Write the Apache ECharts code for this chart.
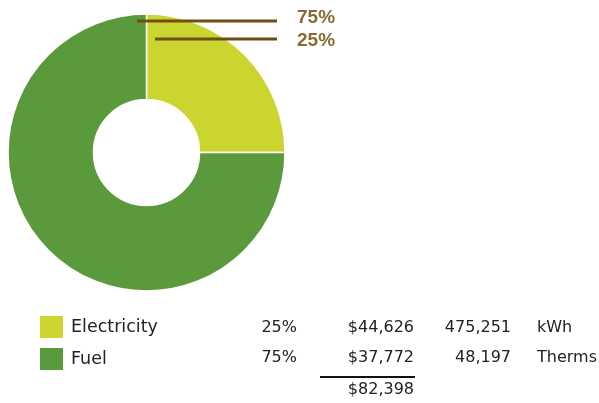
<!DOCTYPE html>
<html><head><meta charset="utf-8">
<script src="https://cdn.jsdelivr.net/npm/echarts@6/dist/echarts.min.js"></script>
<style>html,body{margin:0;padding:0;background:#fff}#c{width:599px;height:403px}</style>
</head><body><div id="c"></div>
<script>
var categories = ['Electricity', 'Fuel'];
var percents = [25, 75];
var costs = ['$44,626', '$37,772'];
var usage = ['475,251', '48,197'];
var units = ['kWh', 'Therms'];
var total = '$82,398';
var colors = ['#cad52f', '#5b9a3c'];

var chart = echarts.init(document.getElementById('c'), null, {renderer: 'canvas'});
var rowY = [328, 358];
var numFont = 'DejaVu Sans';
var graphics = [];
for (var i = 0; i < categories.length; i++) {
  graphics.push({type: 'text', x: 297, y: rowY[i], style: {text: percents[i] + '%', font: '16px ' + numFont, fill: '#222', align: 'right', verticalAlign: 'middle'}});
  graphics.push({type: 'text', x: 414, y: rowY[i], style: {text: costs[i], font: '16px ' + numFont, fill: '#222', align: 'right', verticalAlign: 'middle'}});
  graphics.push({type: 'text', x: 511, y: rowY[i], style: {text: usage[i], font: '16px ' + numFont, fill: '#222', align: 'right', verticalAlign: 'middle'}});
  graphics.push({type: 'text', x: 537, y: rowY[i], style: {text: units[i], font: '16px ' + numFont, fill: '#222', align: 'left', verticalAlign: 'middle'}});
}
graphics.push({type: 'line', shape: {x1: 320, y1: 377, x2: 415, y2: 377}, style: {stroke: '#111', lineWidth: 2}});
graphics.push({type: 'text', x: 414, y: 390, style: {text: total, font: '16px ' + numFont, fill: '#222', align: 'right', verticalAlign: 'middle'}});

var labelSpots = [{y: 41, x0: 155, ly: 39}, {y: 18, x0: 137, ly: 21}];
var pieData = categories.map(function (c, i) { return {name: c, value: percents[i]}; });

chart.setOption({
  animation: false,
  legend: {
    orient: 'vertical', left: 38, top: 314, padding: 0, itemWidth: 25, itemHeight: 24, itemGap: 6,
    icon: 'rect', selectedMode: false,
    textStyle: {fontFamily: 'DejaVu Sans', fontSize: 17.5, color: '#222', padding: [0, 0, 0, 2]},
    data: categories
  },
  graphic: graphics,
  series: [{
    type: 'pie',
    center: [146.5, 152.5],
    radius: [53, 138.5],
    startAngle: 90,
    clockwise: true,
    color: colors,
    itemStyle: {borderColor: '#fff', borderWidth: 1.5},
    label: {show: false},
    labelLine: {show: false},
    emphasis: {disabled: true},
    data: pieData
  }, {
    type: 'pie',
    z: 5,
    silent: true,
    legendHoverLink: false,
    center: [146.5, 152.5],
    radius: [53, 138.5],
    startAngle: 90,
    clockwise: true,
    avoidLabelOverlap: false,
    color: colors,
    itemStyle: {color: 'rgba(0,0,0,0)', borderWidth: 0},
    label: {
      show: true, position: 'outside',
      formatter: function (p) { return p.value + '%'; },
      fontFamily: 'Liberation Sans', fontWeight: 'bold', fontSize: 19, color: '#8a6a32'
    },
    labelLine: {show: true, lineStyle: {color: '#6f4e14', width: 3, opacity: 1}},
    labelLayout: function (p) {
      var s = labelSpots[p.dataIndex];
      return {
        x: 297, y: s.y, align: 'left', verticalAlign: 'middle', hideOverlap: false,
        labelLinePoints: [[s.x0, s.ly], [277, s.ly], [277, s.ly]]
      };
    },
    emphasis: {disabled: true},
    data: pieData
  }]
});
</script></body></html>
